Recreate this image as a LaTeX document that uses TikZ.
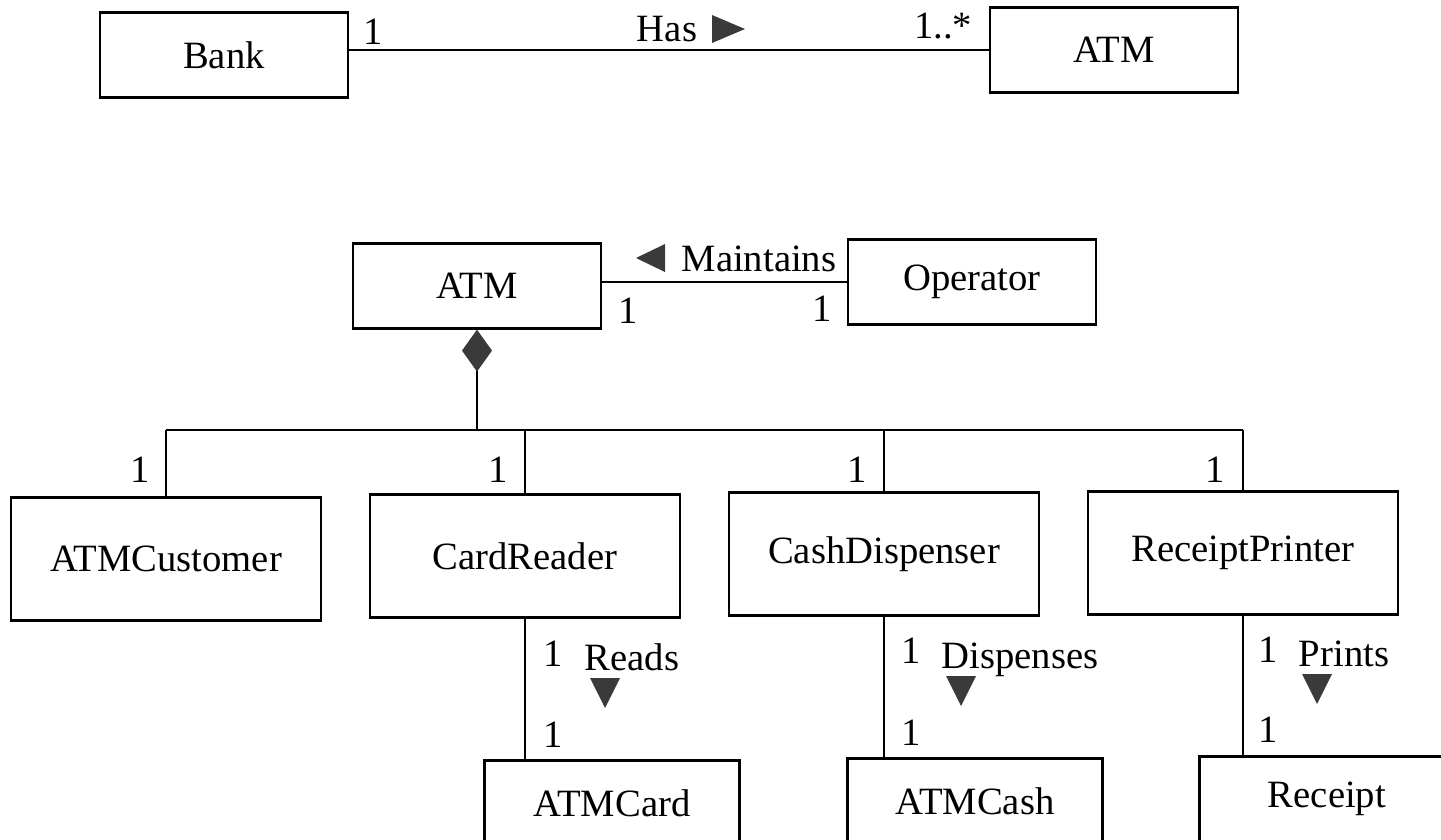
\documentclass[tikz,border=0pt]{standalone}
\usepackage{fontspec}
\setmainfont{Liberation Serif}
\usetikzlibrary{arrows.meta}
\definecolor{TriGray}{HTML}{3A3A3A}

\begin{document}
\begin{tikzpicture}[x=0.02cm,y=-0.02cm,line width=1.3pt,font=\fontsize{22}{26}\selectfont,
  cls/.style={draw,inner sep=0pt,minimum width=4.96cm,minimum height=1.7cm},
  bigcls/.style={cls,minimum width=6.2cm,minimum height=2.46cm},
  leafcls/.style={cls,minimum width=5.1cm},
  mult/.style={anchor=base,inner sep=0pt}]
  \useasboundingbox (0,0) rectangle (1441,839);\clip (0,0) rectangle (1441,839);
  \node[cls] (bank) at (224,55) {Bank};
  \node[cls] (atmTop) at (1114,50) {ATM};
  \draw (bank.east |- atmTop.west) -- (atmTop.west);
  \node[mult] (bankM) at (373,44) {1};\node[mult] (hasLbl) at (667,41) {Has};\node[mult] (atmTopM) at (943,38) {1..*};
  \fill[TriGray] (712,15) -- (712,43) -- (745,29) -- cycle;
  \node[cls] (atm) at (477,286) {ATM};
  \node[cls] (operator) at (972,282) {Operator};
  \draw (atm.east |- operator.west) -- (operator.west);
  \node[mult] (maintLbl) at (759,271) {Maintains};
  \fill[TriGray] (665,244) -- (665,272) -- (636,258) -- cycle;
  \node[mult] (atmM) at (628,323) {1};\node[mult] (operatorM) at (822,321) {1};
  \node[bigcls] (customer) at (166,559) {ATMCustomer};
  \node[bigcls] (reader) at (525,556) {CardReader};
  \node[bigcls] (dispenser) at (884,554) {CashDispenser};
  \node[bigcls] (printer) at (1243,553) {ReceiptPrinter};
  \coordinate (hub) at (477,430);
  \draw[-{Diamond[length=0.84cm,width=0.6cm,color=TriGray]}] (hub) -- (atm.south);
  \draw (customer.north |- hub) -- (printer.north |- hub);
  \foreach \n in {customer,reader,dispenser,printer}{\draw (\n.north) -- (\n.north |- hub);}
  \foreach \x in {140,498,857,1215}{\node[mult] (m\x) at (\x,482) {1};}
  \node[leafcls] (card) at (612,803) {ATMCard};
  \node[leafcls] (cash) at (975,801) {ATMCash};
  \node[leafcls] (receipt) at (1327,799) {Receipt};
  \draw (reader.south) -- (reader.south |- card.north);
  \draw (dispenser.south) -- (dispenser.south |- cash.north);
  \draw (printer.south) -- (printer.south |- receipt.north);
  \node[mult] (readerM) at (553,666) {1};\node[mult] (readsLbl) at (632,670) {Reads};\node[mult] (cardM) at (553,747) {1};
  \fill[TriGray] (590,678) -- (620,678) -- (605,708) -- cycle;
  \node[mult] (dispM) at (911,663) {1};\node[mult] (dispLbl) at (1020,668) {Dispenses};\node[mult] (cashM) at (911,745) {1};
  \fill[TriGray] (946,676) -- (976,676) -- (961,706) -- cycle;
  \node[mult] (printerM) at (1268,662) {1};\node[mult] (printsLbl) at (1344,666) {Prints};\node[mult] (receiptM) at (1268,742) {1};
  \fill[TriGray] (1302,674) -- (1332,674) -- (1317,704) -- cycle;
\end{tikzpicture}
\end{document}
